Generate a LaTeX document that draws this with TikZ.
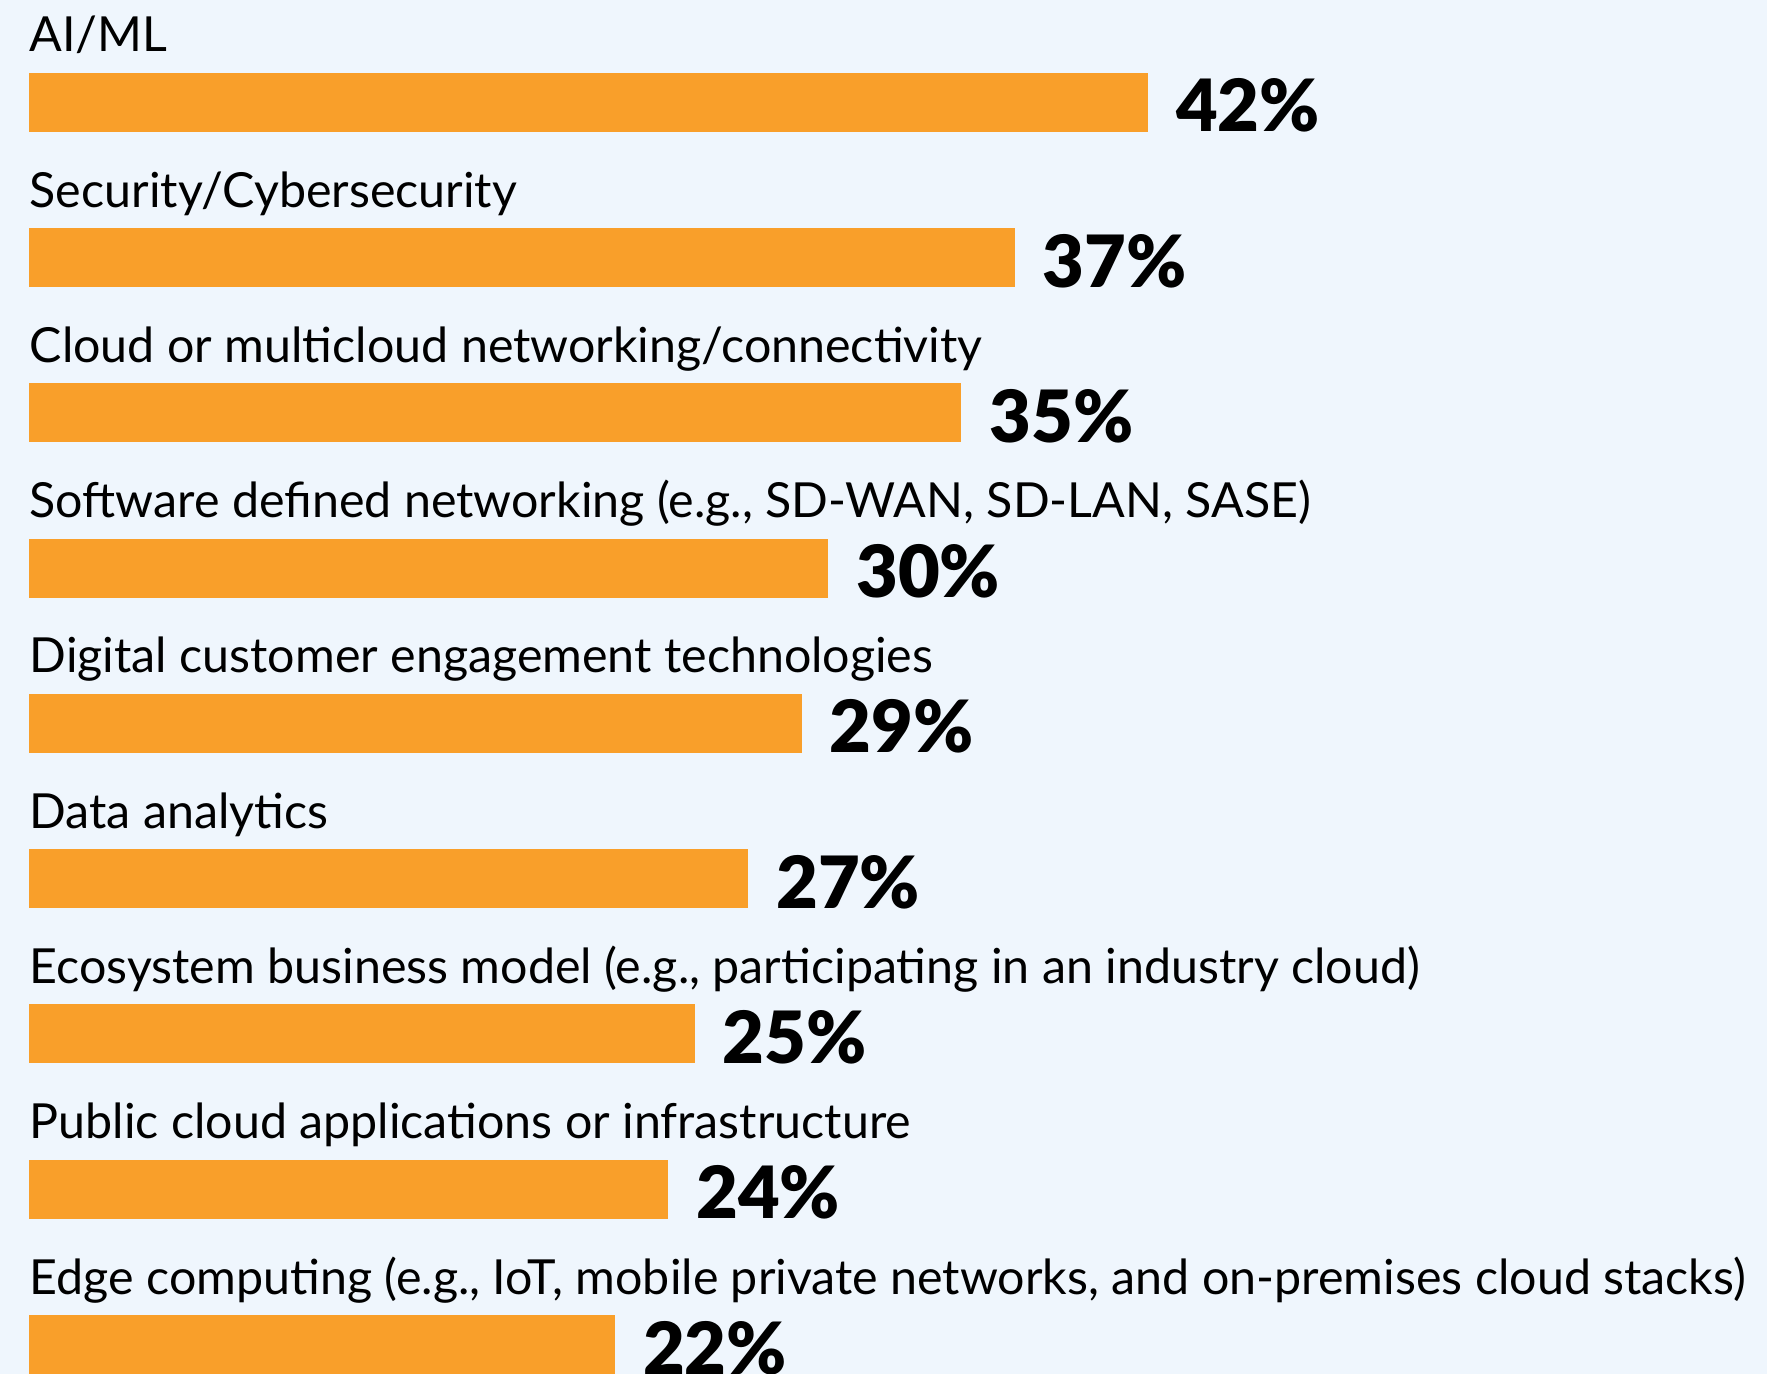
\documentclass[tikz,border=0pt]{standalone}
\usepackage{fontspec}
\setmainfont{Lato}[BoldFont={Lato Black}]
\definecolor{bgblue}{HTML}{EFF6FD}
\definecolor{barorange}{HTML}{F99F2A}
\begin{document}
\begin{tikzpicture}[x=0.01cm,y=-0.01cm,
  cat/.style={anchor=base west,inner sep=0pt,font=\fontsize{13.75}{16}\selectfont},
  pct/.style={anchor=base west,inner sep=0pt,font=\fontsize{20.5}{24}\selectfont\bfseries},
  bar/.style={fill=barorange}]
\fill[bgblue] (0,0) rectangle (1767,1374);
\clip (0,0) rectangle (1767,1374);
\foreach \i/\p/\t in {1/42/{AI/ML},
  2/37/{Security/Cybersecurity},
  3/35/{Cloud or multicloud networking/connectivity},
  4/30/{Software defined networking (e.g., SD-WAN, SD-LAN, SASE)},
  5/29/{Digital customer engagement technologies},
  6/27/{Data analytics},
  7/25/{Ecosystem business model (e.g., participating in an industry cloud)},
  8/24/{Public cloud applications or infrastructure},
  9/22/{Edge computing (e.g., IoT, mobile private networks, and on-premises cloud stacks)}}{
  \pgfmathsetmacro\bartop{73+155.25*(\i-1)}
  \pgfmathsetmacro\barlen{26.65*\p}
  \node[cat] (label\i) at (29,\bartop-21) {\t};
  \fill[bar] (28.7,\bartop) rectangle ++(\barlen,59);
  \node[pct] (val\i) at (56+\barlen,\bartop+59) {\p\%};
}
\end{tikzpicture}
\end{document}
